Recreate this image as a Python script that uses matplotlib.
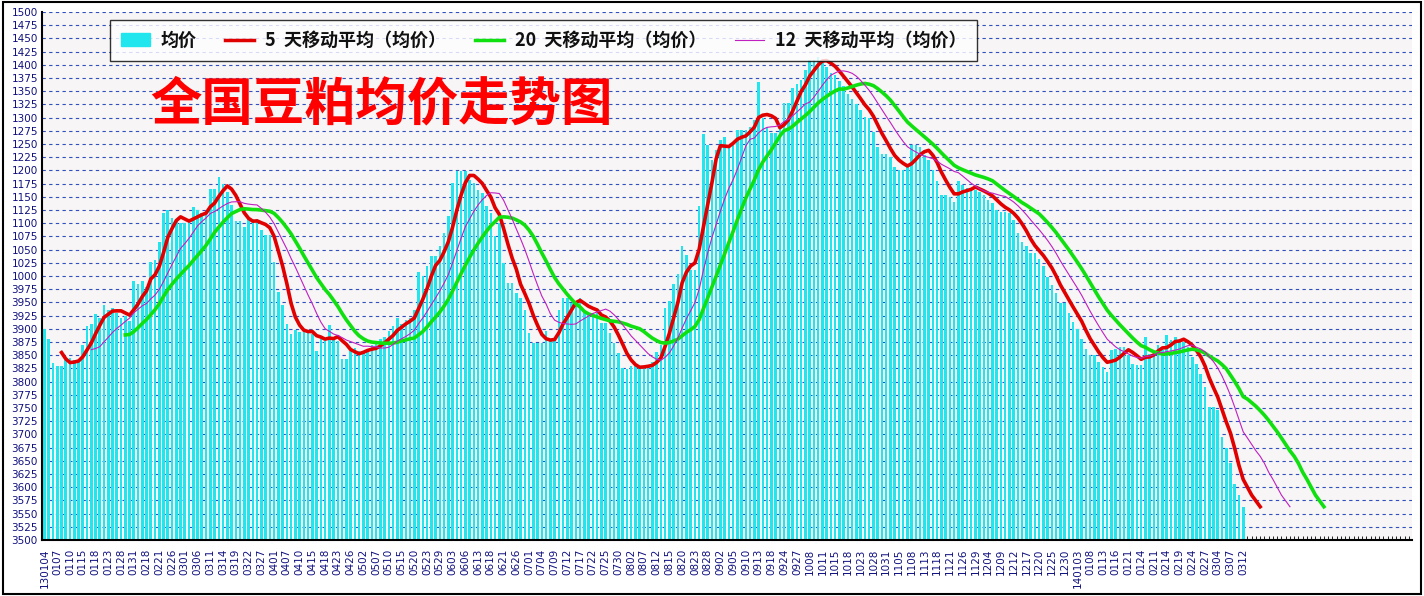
import numpy as np
import matplotlib
matplotlib.use("Agg")
import matplotlib.pyplot as plt
from matplotlib.patches import Patch
from matplotlib.lines import Line2D

plt.rcParams['font.family'] = ['Noto Sans CJK SC', 'DejaVu Sans']

seg_a = [3900,3880,3835,3830,3830,3840,3845,3840,3840,3870,3905,3910,3928,3920,3945,3935,3940,3930,3920,3925,
         3915,3990,3985,3990,3980,4027,4030,4065,4120,4125,4110,4105,4100,4100,4105,4130,4125,4120,4115,4165,
         4165,4188,4175,4160,4135,4105,4105,4093,4108,4108,4108,4087,4077,4077,4027,3970,3945,3910,3890,3897,
         3893,3897,3897,3890,3858,3880,3877,3907,3885,3877,3842,3842,3858,3864,3858,3855,3860,3870,3872,3880,
         3885,3895,3905,3920,3910,3917,3920,3935,4008]
seg_b = [4000,4018,4037,4037,4056,4081,4113,4176,4198,4198,4198,4182,4176,4163,4157,4132,4119,4075,4100,4024,
         3986,3986,3967,3958,3936,3892,3873,3873,3873,3895,3879,3879,3936,3958,3958,3949,3946,3958,3930,3930,
         3930,3930,3911,3911,3892,3873,3854,3826,3823,3829,3829,3829,3829,3829,3838,3857,3870,3940,3952,3984,
         4003,4056,4040,4012,4012,4132,4268,4249,4220,4239,4258,4264,4245,4251,4277,4277,4277,4283,4296,4368,
         4299,4283,4271,4271,4280,4328,4328,4356,4363,4372,4391,4410,4410,4415]
seg_c = [4410,4395,4385,4380,4370,4360,4345,4335,4325,
         4314,4302,4299,4273,4245,4232,4232,4226,4207,4201,4201,4207,4248,4248,4245,4229,4220,4201,4179,4154,
         4154,4150,4141,4179,4172,4166,4163,4163,4160,4154,4144,4138,4125,4122,4122,4119,4106,4081,4065,4056,
         4043,4043,4033,4018,3999,3983,3967,3948,3948,3929,3913,3900,3881,3862,3850,3850,3837,3828,3818,3859,
         3862,3865,3865,3850,3834,3831,3831,3885,3853,3853,3869,3859,3888,3878,3885,3875,3875,3865,3846,3834,
         3815,3790,3752,3752,3746,3696,3674,3645,3607,3585,3563]
prices = np.array(seg_a + seg_b + seg_c, dtype=float)

date_labels = ["130104","0107","0110","0115","0118","0123","0128","0131","0218","0221","0226","0301","0306",
               "0311","0314","0319","0322","0327","0401","0407","0410","0415","0418","0423","0426","0502","0507",
               "0510","0515","0520","0523","0529","0603","0606","0613","0618","0621","0626","0701","0704","0709",
               "0712","0717","0722","0725","0730","0802","0807","0812","0815","0820","0823","0828","0902","0905",
               "0910","0913","0918","0924","0927","1008","1011","1015","1018","1023","1028","1031","1105","1108",
               "1113","1118","1121","1126","1129","1204","1209","1212","1217","1220","1225","1230","140103","0108",
               "0113","0116","0121","0124","0211","0214","0219","0224","0227","0304","0307","0312"]
ma_windows = [5, 20, 12]
ma_names = ["5  天移动平均（均价）", "20  天移动平均（均价）", "12  天移动平均（均价）"]
ma_colors = ["#e00000", "#10e010", "#c020c0"]
ma_widths = [2.6, 2.6, 0.8]

fig = plt.figure(figsize=(14.24, 5.96), dpi=100, facecolor="white")
ax = fig.add_axes([42/1424, 1-540/596, 1370/1424, 528/596])
ax.set_facecolor("#f7f5f5")

n = len(prices)
x = np.arange(n) * 1.004
ax.bar(x, prices - 3500, bottom=3500, width=0.62, color="#22e6ee", zorder=2)

for w, name, c, lw in zip(ma_windows, ma_names, ma_colors, ma_widths):
    vals = np.array([prices[j:j+w].mean() for j in range(n)])
    ax.plot((np.arange(n) + w - 1) * 1.004, vals, color=c, lw=lw, zorder=4, solid_joinstyle="round")

ax.set_xlim(-0.6, 323)
ax.set_ylim(3500, 4500)
yt = np.arange(3500, 4501, 25)
ax.set_yticks(yt)
ax.set_yticklabels([("1" + str(v)[1:]) if v >= 4000 else str(v) for v in yt],
                   fontsize=7.5, color="#101080", family="DejaVu Sans")
ax.yaxis.grid(True, ls=(0, (3, 3)), color="#3050c0", lw=0.8, zorder=1)
ax.set_axisbelow(True)
ax.set_xticks(np.arange(0, len(date_labels) * 3, 3) * 1.004)
ax.set_xticklabels(date_labels, rotation=90, fontsize=7.5, color="#101080", family="DejaVu Sans")
ax.set_xticks(np.arange(0, 322) * 1.004, minor=True)
ax.tick_params(axis="x", which="both", direction="in", length=3, width=0.6, pad=6)
ax.tick_params(axis="y", length=0, pad=3)
for s in ["top", "right"]:
    ax.spines[s].set_visible(False)
ax.spines["left"].set_linewidth(1.5)
ax.spines["bottom"].set_linewidth(1.5)

handles = [Patch(color="#22e6ee", label="均价")] + [
    Line2D([], [], color=c, lw=2.5 if lw > 1 else 0.8, label=nm) for nm, c, lw in zip(ma_names, ma_colors, ma_widths)]
leg = fig.legend(handles=handles, ncol=4, loc="upper left", bbox_to_anchor=(101/1424, 1-11/596),
                 frameon=True, fancybox=False, edgecolor="black", handlelength=1.6,
                 columnspacing=1.6, borderpad=0.6, handletextpad=0.6,
                 prop={"weight": "bold", "size": 13})
leg.get_frame().set_linewidth(1.0)
for t in leg.get_texts():
    t.set_color("#101010")

fig.text(150/1424, 1-104/596, "全国豆粕均价走势图", color="#ff0000", fontsize=37, fontweight="heavy", va="center")

fig.patches.append(plt.Rectangle((0.002, 0.003), 0.996, 0.994, transform=fig.transFigure,
                                 fill=False, edgecolor="black", lw=1.5))
fig.savefig("out.png", dpi=100)
